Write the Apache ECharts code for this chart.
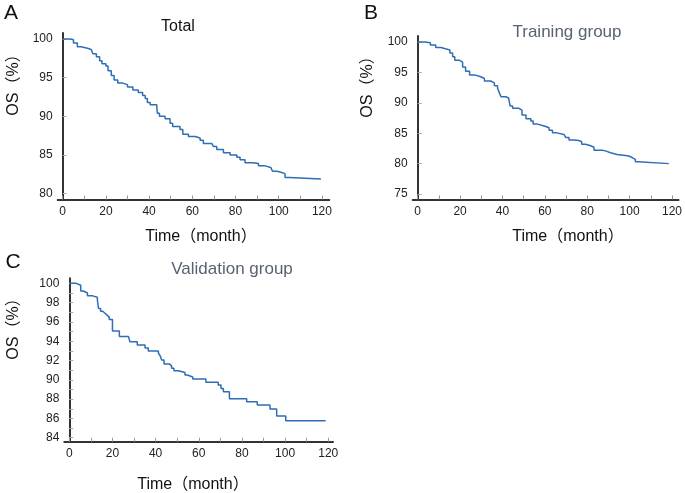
<!DOCTYPE html>
<html>
<head>
<meta charset="utf-8">
<script src="https://cdn.jsdelivr.net/npm/echarts@6/dist/echarts.min.js"></script>
<style>
html,body{margin:0;padding:0;background:#fff;}
#c{width:685px;height:493px;}
</style>
</head>
<body>
<div id="c"></div>
<script>
// ---- Data ----
const totalTime = [0,3.5,5.0,6.8,8.5,11.5,13.2,14.0,15.6,17.1,18.2,20.0,21.0,22.5,23.8,25.5,27.8,30.0,32.5,35.0,37.0,38.2,39.2,40.5,43.5,43.8,44.8,47.4,49.7,50.9,54.3,55.6,58.2,61.3,63.6,65.1,69.0,69.8,71.3,74.4,77.5,80.6,82.1,84.4,88.3,90.6,93.7,96.3,97.1,99.1,100.6,102.9,104.9,119.5];
const totalOS   = [100,99.9,99.5,99.0,98.8,98.65,98.5,98.1,97.7,97.2,96.8,96.5,95.9,95.3,94.7,94.3,94.1,93.8,93.4,93.1,92.7,92.3,91.8,91.5,91.3,90.4,90.0,89.7,89.1,88.7,88.3,87.7,87.4,87.2,86.9,86.5,86.4,86.1,85.7,85.3,85.0,84.7,84.4,84.0,83.9,83.6,83.4,83.2,82.9,82.8,82.6,82.1,81.9,81.9];

const trainTime = [0,3.5,6.0,8.5,11.0,13.5,15.2,16.5,17.5,19.8,21.2,22.6,24.5,26.8,29.8,31.5,34.5,36.2,37.7,38.6,39.3,41.6,42.9,43.6,44.8,47.8,49.2,51.1,53.4,54.5,56.6,59.7,62.0,63.6,65.2,69.0,69.9,71.4,73.8,76.0,77.4,79.2,81.6,83.2,87.1,88.6,91.0,94.1,98.0,99.6,101.2,102.7,104.0,118.5];
const trainOS   = [100,99.9,99.5,99.1,98.85,98.7,98.2,97.6,97.0,96.7,95.9,95.2,94.6,94.3,94.0,93.6,93.3,92.8,92.4,91.6,91.0,90.8,90.5,89.5,89.1,88.8,88.0,87.4,87.0,86.5,86.2,85.9,85.5,85.1,84.8,84.7,84.3,83.9,83.8,83.6,83.2,82.95,82.7,82.2,82.1,81.8,81.5,81.35,81.25,81.0,80.7,80.3,80.0,80.0];

const validTime = [0,3.2,5.3,6.5,8.4,10.8,13.0,13.5,14.5,15.5,16.5,17.5,18.5,20.0,23.2,27.4,28.1,31.5,35.1,36.6,41.3,42.2,42.8,43.9,46.4,47.4,48.5,50.5,53.6,54.7,57.2,63.3,69.0,70.3,71.4,74.2,82.2,87.1,93.0,96.1,100.3,118.8];
const validOS   = [100,99.8,99.2,99.0,98.7,98.55,98.3,97.4,97.1,96.9,96.7,96.5,96.25,95.05,94.5,94.3,93.95,93.6,93.3,93.0,92.75,92.45,92.05,91.65,91.45,91.2,90.95,90.75,90.5,90.3,90.08,89.74,89.46,89.1,88.77,88.04,87.73,87.4,86.97,86.25,85.76,85.76];

const xTicks = [0,10,20,30,40,50,60,70,80,90,100,110,120];
const xLabels = [0,20,40,60,80,100,120];
const yTicksA = [80,85,90,95,100];
const yTicksB = [75,80,85,90,95,100];
const yTicksC = [84,85,86,87,88,89,90,91,92,93,94,95,96,97,98,99,100];
const yLabelsC = [84,86,88,90,92,94,96,98,100];

const titles = ['Total','Training group','Validation group'];
const letters = ['A','B','C'];
const yName = 'OS（%）';
const xName = 'Time（month）';

// ---- Chart ----
const FONT = "'Liberation Sans', Arial, 'Noto Sans CJK SC', sans-serif";
const lineColor = '#2f6db6';

function pairs(t, v){ return t.map((x,i)=>[x, v[i]]); }

function xAxisCfg(grid, min, max){
  return {
    type:'value', gridIndex:grid, min:min, max:max,
    axisLine:{show:true, lineStyle:{color:'#333', width:2}},
    axisTick:{show:true, inside:true, length:4, customValues:xTicks, lineStyle:{color:'#999', width:1}},
    axisLabel:{customValues:xLabels, color:'#222', fontSize:12, fontFamily:FONT, margin:6},
    splitLine:{show:false}
  };
}
function yAxisCfg(grid, min, max, ticks, labels){
  return {
    type:'value', gridIndex:grid, min:min, max:max,
    axisLine:{show:true, lineStyle:{color:'#333', width:2}},
    axisTick:{show:true, inside:true, length:4, customValues:ticks, lineStyle:{color:'#aaa', width:1}},
    axisLabel:{customValues:labels, color:'#222', fontSize:12, fontFamily:FONT, margin:5},
    splitLine:{show:false}
  };
}
function seriesCfg(i, t, v){
  return {type:'line', xAxisIndex:i, yAxisIndex:i, step:'end', showSymbol:false, symbol:'none',
    data:pairs(t,v), lineStyle:{color:lineColor, width:1.5}, animation:false};
}
function txt(x, y, s, size, color, rot){
  return {type:'text', x:x, y:y, rotation:rot||0,
    style:{text:s, fill:color, font: size+'px '+FONT, textAlign:'center', textVerticalAlign:'middle'}};
}

const chart = echarts.init(document.getElementById('c'), null, {renderer:'canvas'});
chart.setOption({
  backgroundColor:'#fff',
  animation:false,
  grid:[
    {left:57.7, top:33, width:271.6, height:166.5},
    {left:412.7, top:36, width:267.3, height:163.3},
    {left:64.3, top:278.3, width:268.7, height:163.4}
  ],
  xAxis:[
    xAxisCfg(0, -2.3, 123.4),
    xAxisCfg(1, -2.35, 123.1),
    xAxisCfg(2, -2.32, 122.2)
  ],
  yAxis:[
    yAxisCfg(0, 79.25, 100.78, yTicksA, yTicksA),
    yAxisCfg(1, 74.13, 101.0, yTicksB, yTicksB),
    yAxisCfg(2, 83.59, 100.52, yTicksC, yLabelsC)
  ],
  series:[
    seriesCfg(0, totalTime, totalOS),
    seriesCfg(1, trainTime, trainOS),
    seriesCfg(2, validTime, validOS)
  ],
  graphic:[
    txt(11, 13, letters[0], 21, '#111'),
    txt(371, 13, letters[1], 21, '#111'),
    txt(13, 262, letters[2], 21, '#111'),
    txt(178, 27, titles[0], 16, '#111'),
    txt(567, 32, titles[1], 17, '#596273'),
    txt(232, 269, titles[2], 17, '#596273'),
    txt(13.5, 81, yName, 16, '#111', Math.PI/2),
    txt(368, 83, yName, 16, '#111', Math.PI/2),
    txt(13.5, 325, yName, 16, '#111', Math.PI/2),
    txt(201, 237, xName, 16, '#111'),
    txt(568, 237, xName, 16, '#111'),
    txt(193, 485, xName, 16, '#111')
  ]
});
</script>
</body>
</html>
